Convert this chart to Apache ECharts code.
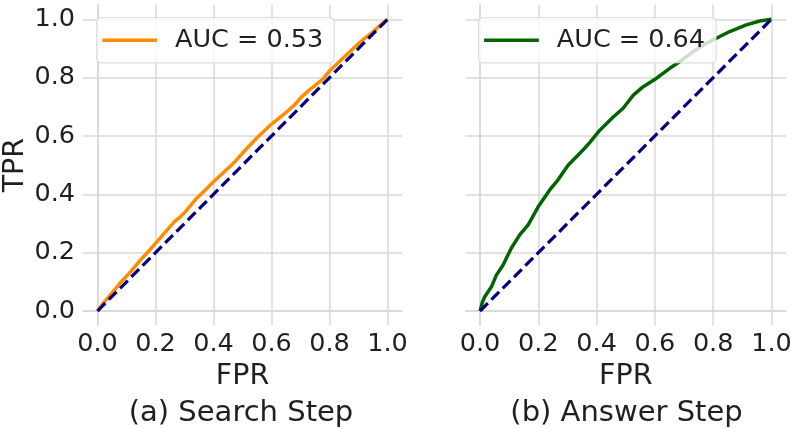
<!DOCTYPE html>
<html>
<head>
<meta charset="utf-8">
<script src="https://cdn.jsdelivr.net/npm/echarts@6/dist/echarts.min.js"></script>
<style>
html,body{margin:0;padding:0;background:#fff;}
#c{width:797px;height:429px;}
</style>
</head>
<body>
<div id="c"></div>
<script>
// ---- data ----
const tickValues = [0, 0.2, 0.4, 0.6, 0.8, 1.0];
const diagX = [0, 1];
const diagY = [0, 1];

const fprSearch = [0, 0.02, 0.039, 0.06, 0.085, 0.11, 0.142, 0.17, 0.2, 0.235, 0.267, 0.285, 0.302, 0.337, 0.37, 0.4, 0.44, 0.474, 0.51, 0.55, 0.6, 0.625, 0.653, 0.68, 0.704, 0.73, 0.756, 0.775, 0.8, 0.847, 0.893, 0.92, 0.951, 0.975, 1];
const tprSearch = [0, 0.027, 0.049, 0.074, 0.104, 0.13, 0.168, 0.198, 0.232, 0.272, 0.308, 0.322, 0.339, 0.381, 0.413, 0.443, 0.48, 0.512, 0.552, 0.594, 0.641, 0.66, 0.683, 0.707, 0.734, 0.757, 0.778, 0.793, 0.823, 0.867, 0.91, 0.934, 0.958, 0.98, 1];

const fprAnswer = [0, 0.008, 0.016, 0.039, 0.056, 0.079, 0.107, 0.136, 0.165, 0.2, 0.239, 0.267, 0.302, 0.335, 0.359, 0.377, 0.411, 0.457, 0.491, 0.526, 0.56, 0.606, 0.651, 0.686, 0.731, 0.777, 0.811, 0.857, 0.914, 0.96, 1];
const tprAnswer = [0, 0.03, 0.049, 0.083, 0.123, 0.158, 0.215, 0.261, 0.295, 0.358, 0.415, 0.449, 0.5, 0.533, 0.558, 0.578, 0.62, 0.665, 0.695, 0.74, 0.769, 0.798, 0.832, 0.855, 0.889, 0.918, 0.935, 0.958, 0.981, 0.994, 1];

const labelSearch = 'AUC = 0.53';
const labelAnswer = 'AUC = 0.64';
const titleSearch = '(a) Search Step';
const titleAnswer = '(b) Answer Step';
const xName = 'FPR';
const yName = 'TPR';

// ---- chart ----
const FONT = 'DejaVu Sans';
const TXT = '#1f1f1f';
const GRIDC = '#d9d9d9';
const zip = (a, b) => a.map((v, i) => [v, b[i]]);

function xAxisDef(idx) {
  return {
    type: 'value', gridIndex: idx, min: -0.05, max: 1.05,
    name: xName, nameLocation: 'middle', nameGap: 32,
    nameTextStyle: {fontFamily: FONT, fontSize: 28.5, color: TXT},
    axisLine: {show: true, lineStyle: {color: GRIDC, width: 1.5}},
    axisTick: {show: false, customValues: tickValues},
    axisLabel: {customValues: tickValues, formatter: v => v.toFixed(1), fontFamily: FONT, fontSize: 25.5, color: TXT, margin: 6},
    splitLine: {show: true, lineStyle: {color: GRIDC, width: 1.5}}
  };
}
function yAxisDef(idx, showLabels) {
  return {
    type: 'value', gridIndex: idx, min: -0.05, max: 1.05,
    name: showLabels ? yName : '', nameLocation: 'middle', nameGap: 53, nameRotate: 90,
    nameTextStyle: {fontFamily: FONT, fontSize: 28.5, color: TXT},
    axisLine: {show: true, lineStyle: {color: GRIDC, width: 1.5}},
    axisTick: {show: false, customValues: tickValues},
    axisLabel: {show: showLabels, customValues: tickValues, formatter: v => v.toFixed(1), fontFamily: FONT, fontSize: 25.5, color: TXT, margin: 8},
    splitLine: {show: true, lineStyle: {color: GRIDC, width: 1.5}}
  };
}
function legendDef(name, left) {
  return {
    data: [{name: name, icon: 'rect'}], left: left, top: 17.7, orient: 'horizontal',
    itemWidth: 54.7, itemHeight: 3.4,
    padding: [9.6, 11, 9.6, 5.6],
    backgroundColor: 'rgba(255,255,255,0.8)',
    borderColor: 'rgba(204,204,204,0.8)', borderWidth: 1, borderRadius: 4,
    selectedMode: false,
    textStyle: {fontFamily: FONT, fontSize: 25.5, color: TXT, lineHeight: 24, padding: [0, 0, 0, 13]}
  };
}

const chart = echarts.init(document.getElementById('c'), null, {renderer: 'canvas'});
chart.setOption({
  animation: false,
  backgroundColor: '#ffffff',
  grid: [
    {left: 82.5, top: 4.7, width: 319.5, height: 320.9},
    {left: 465.5, top: 4.7, width: 320.5, height: 320.9}
  ],
  xAxis: [xAxisDef(0), xAxisDef(1)],
  yAxis: [yAxisDef(0, true), yAxisDef(1, false)],
  legend: [legendDef(labelSearch, 96.7), legendDef(labelAnswer, 478.5)],
  graphic: [
    {type: 'text', x: 241, y: 413, style: {text: titleSearch, font: '29px "DejaVu Sans"', fill: TXT, textAlign: 'center', textVerticalAlign: 'middle'}},
    {type: 'text', x: 626.5, y: 413, style: {text: titleAnswer, font: '29px "DejaVu Sans"', fill: TXT, textAlign: 'center', textVerticalAlign: 'middle'}}
  ],
  series: [
    {name: labelSearch, type: 'line', xAxisIndex: 0, yAxisIndex: 0, symbol: 'none', data: zip(fprSearch, tprSearch),
     lineStyle: {color: '#ff8c00', width: 3.5, join: 'round'}, itemStyle: {color: '#ff8c00'}},
    {name: 'diag1', type: 'line', xAxisIndex: 0, yAxisIndex: 0, symbol: 'none', data: zip(diagX, diagY),
     lineStyle: {color: '#000080', width: 3.2, type: [11, 5]}, itemStyle: {color: '#000080'}},
    {name: labelAnswer, type: 'line', xAxisIndex: 1, yAxisIndex: 1, symbol: 'none', data: zip(fprAnswer, tprAnswer),
     lineStyle: {color: '#006400', width: 3.5, join: 'round'}, itemStyle: {color: '#006400'}},
    {name: 'diag2', type: 'line', xAxisIndex: 1, yAxisIndex: 1, symbol: 'none', data: zip(diagX, diagY),
     lineStyle: {color: '#000080', width: 3.2, type: [11, 5]}, itemStyle: {color: '#000080'}}
  ]
});
</script>
</body>
</html>
